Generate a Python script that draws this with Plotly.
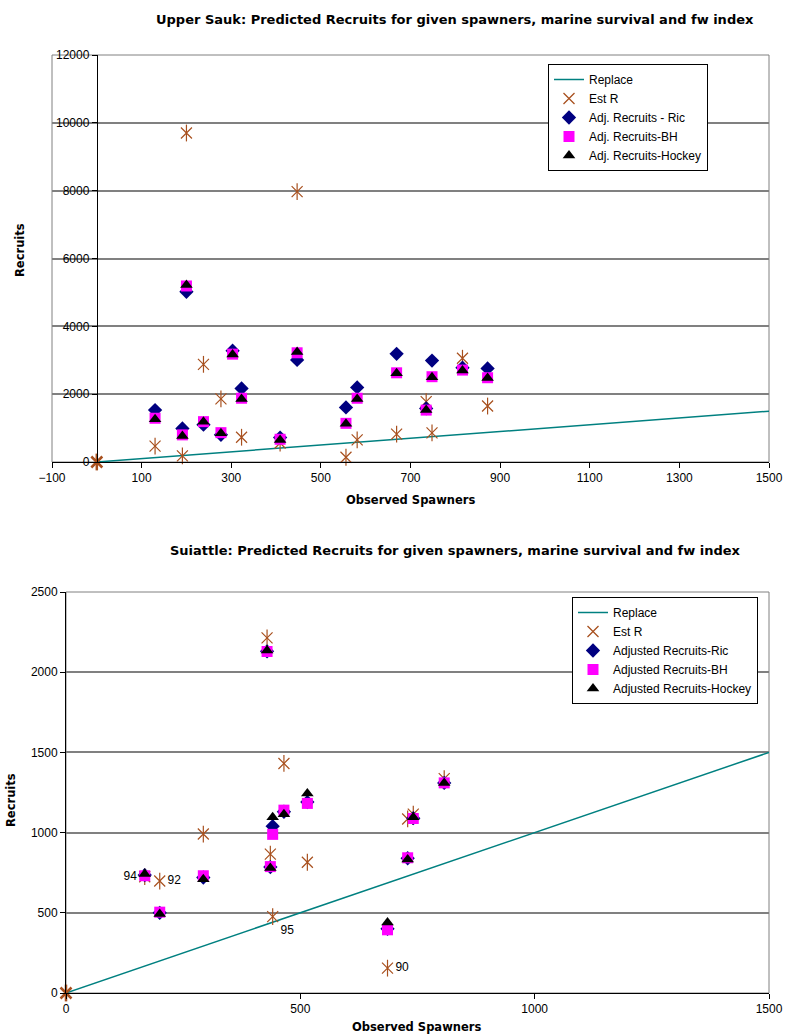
import plotly.graph_objects as go

W, H = 785, 1035

# ---------------- Upper Sauk ----------------
sauk_title = "Upper Sauk: Predicted Recruits for given spawners, marine survival and fw index"
sauk_spawners = [0, 130, 191, 200, 238, 277, 303, 323, 409, 447, 556, 581, 669, 735, 748, 816, 872]
sauk_est_r = [0, 470, 180, 9700, 2880, 1860, None, 730, 560, 7970, 140, 650, 820, 1780, 860, 3060, 1650]
sauk_ric = [None, 1530, 990, 5020, 1100, 800, 3280, 2170, 720, 3010, 1610, 2200, 3190, 1580, 2990, 2780, 2760]
sauk_bh = [None, 1290, 800, 5190, 1190, 865, 3180, 1880, 670, 3220, 1140, 1880, 2630, 1530, 2515, 2710, 2485]
sauk_hockey = [None, 1260, 770, 5220, 1190, 850, 3170, 1860, 650, 3240, 1130, 1860, 2620, 1530, 2500, 2700, 2480]
sauk_replace_x = [0, 1500]
sauk_replace_y = [0, 1500]
sauk_xticks = [-100, 100, 300, 500, 700, 900, 1100, 1300, 1500]
sauk_yticks = [0, 2000, 4000, 6000, 8000, 10000, 12000]
sauk_names = ["Replace", "Est R", "Adj. Recruits - Ric", "Adj. Recruits-BH", "Adj. Recruits-Hockey"]

# ---------------- Suiattle ----------------
sui_title = "Suiattle: Predicted Recruits for given spawners, marine survival and fw index"
sui_spawners = [0, 168, 200, 293, 429, 436, 441, 465, 515, 686, 729, 741, 807]
sui_est_r = [0, 725, 698, 991, 2214, 866, 476, 1431, 815, 155, 1085, 1115, 1337]
sui_ric = [None, 735, 500, 720, 2130, 785, 1040, 1130, 1190, 400, 840, 1090, 1310]
sui_bh = [None, 731, 504, 731, 2129, 788, 989, 1140, 1182, 394, 843, 1088, 1310]
sui_hockey = [None, 742, 493, 709, 2135, 780, 1095, 1115, 1244, 439, 833, 1095, 1310]
sui_labels = ["", "94", "92", "", "", "", "95", "", "", "90", "", "", ""]
sui_label_pos = ["middle right", "middle left", "middle right", "middle right", "middle right",
                 "middle right", "bottom right", "middle right", "middle right", "middle right",
                 "middle right", "middle right", "middle right"]
sui_replace_x = [0, 1500]
sui_replace_y = [0, 1500]
sui_xticks = [0, 500, 1000, 1500]
sui_yticks = [0, 500, 1000, 1500, 2000, 2500]
sui_names = ["Replace", "Est R", "Adjusted Recruits-Ric", "Adjusted Recruits-BH", "Adjusted Recruits-Hockey"]

TEAL = "#008080"
STAR = "#A8501E"
NAVY = "#000080"
MAG = "#FF00FF"
GRID = "#808080"
FONT = "Liberation Sans, Arial, sans-serif"
BOLD = "DejaVu Sans, sans-serif"

fig = go.Figure()


def add_panel(xa, ya, leg, names, sx, est, ric, bh, hock, rx, ry, text=None, textpos=None):
    fig.add_trace(go.Scatter(x=rx, y=ry, mode="lines", name=names[0], xaxis=xa, yaxis=ya,
                             legend=leg, line=dict(color=TEAL, width=1.5)))
    widths = [2.5 if v == 0 else 1.2 for v in sx]
    if text is not None:
        kw = dict(mode="markers+text", text=text, textposition=textpos,
                  textfont=dict(family=FONT, size=12, color="black"))
    else:
        kw = dict(mode="markers")
    fig.add_trace(go.Scatter(x=sx, y=est, name=names[1], xaxis=xa, yaxis=ya, legend=leg,
                             cliponaxis=False,
                             marker=dict(symbol="x-thin-open", size=11,
                                         line=dict(color=STAR, width=widths), color=STAR), **kw))
    fig.add_trace(go.Scatter(x=sx, y=est, mode="markers", showlegend=False, xaxis=xa, yaxis=ya,
                             legend=leg, cliponaxis=False, hoverinfo="skip",
                             marker=dict(symbol="line-ns-open", size=12,
                                         line=dict(color=STAR, width=widths), color=STAR)))
    fig.add_trace(go.Scatter(x=sx, y=ric, mode="markers", name=names[2], xaxis=xa, yaxis=ya,
                             legend=leg, cliponaxis=False,
                             marker=dict(symbol="diamond", size=11, color=NAVY)))
    fig.add_trace(go.Scatter(x=sx, y=bh, mode="markers", name=names[3], xaxis=xa, yaxis=ya,
                             legend=leg, cliponaxis=False,
                             marker=dict(symbol="square", size=11, color=MAG)))
    fig.add_trace(go.Scatter(x=sx, y=hock, mode="markers", name=names[4], xaxis=xa, yaxis=ya,
                             legend=leg, cliponaxis=False,
                             marker=dict(symbol="triangle-up", size=11, color="black")))


add_panel("x", "y", "legend", sauk_names, sauk_spawners, sauk_est_r, sauk_ric, sauk_bh,
          sauk_hockey, sauk_replace_x, sauk_replace_y)
add_panel("x2", "y2", "legend2", sui_names, sui_spawners, sui_est_r, sui_ric, sui_bh,
          sui_hockey, sui_replace_x, sui_replace_y, sui_labels, sui_label_pos)


def px(v):
    return v / W


def py(v):
    return 1 - v / H


tickfont = dict(family=FONT, size=12, color="black")
axis_common = dict(showline=True, linecolor="black", linewidth=1, ticks="outside", ticklen=5,
                   tickcolor="black", zeroline=False, tickfont=tickfont, automargin=False,
                   tickformat="d")

legend_common = dict(font=dict(family=FONT, size=12, color="black"), bgcolor="white",
                     bordercolor="black", borderwidth=1, xanchor="left", yanchor="top",
                     tracegroupgap=0)


def ann(text, x, y, size, angle=0):
    return dict(text=text, x=px(x), y=py(y), xref="paper", yref="paper", xanchor="center",
                yanchor="middle", textangle=angle, showarrow=False,
                font=dict(family=BOLD, size=size, color="black", weight="bold"))


fig.update_layout(
    width=W, height=H, margin=dict(l=0, r=0, t=0, b=0, autoexpand=False),
    paper_bgcolor="white", plot_bgcolor="white", showlegend=True,
    xaxis=dict(domain=[px(52), px(769)], range=[-100, 1500], tickvals=sauk_xticks,
               anchor="y", showgrid=False, **axis_common),
    yaxis=dict(domain=[py(462), py(55)], range=[0, 12000], tickvals=sauk_yticks,
               anchor="free", position=px(96.8), showgrid=True, gridcolor=GRID, gridwidth=1.5,
               **axis_common),
    xaxis2=dict(domain=[px(66), px(769)], range=[0, 1500], tickvals=sui_xticks,
                anchor="y2", showgrid=False, **axis_common),
    yaxis2=dict(domain=[py(993), py(592)], range=[0, 2500], tickvals=sui_yticks,
                anchor="x2", showgrid=True, gridcolor=GRID, gridwidth=1.5, **axis_common),
    legend=dict(x=px(548), y=py(64), **legend_common),
    legend2=dict(x=px(572), y=py(597), **legend_common),
    shapes=[
        dict(type="rect", xref="x domain", yref="y domain", x0=0, x1=1, y0=0, y1=1,
             line=dict(color=GRID, width=1), layer="below"),
        dict(type="rect", xref="x2 domain", yref="y2 domain", x0=0, x1=1, y0=0, y1=1,
             line=dict(color=GRID, width=1), layer="below"),
    ],
    annotations=[
        ann(sauk_title, 455, 20, 13),
        ann(sui_title, 455, 550, 13),
        ann("Observed Spawners", 410, 500, 11.5),
        ann("Observed Spawners", 416, 1027, 11.5),
        ann("Recruits", 20, 250, 11.5, -90),
        ann("Recruits", 11, 800, 11.5, -90),
    ],
)

fig.write_html("out.html", config={"displayModeBar": False},
               post_script="document.body.style.margin='0';")
